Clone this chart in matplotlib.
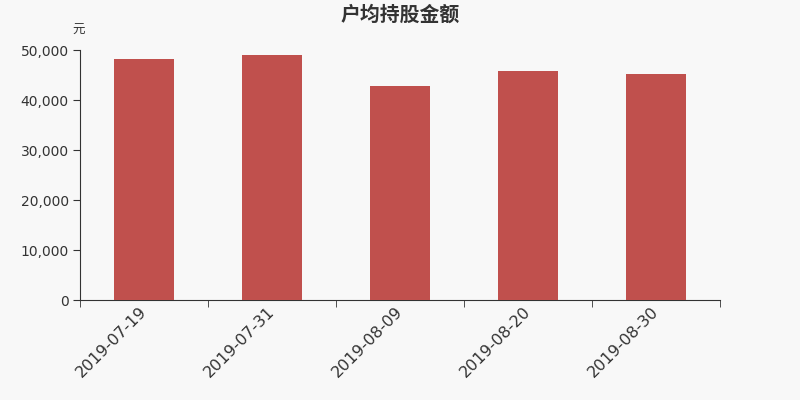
import matplotlib.pyplot as plt
from matplotlib.ticker import FuncFormatter, FixedLocator
from matplotlib.transforms import ScaledTranslation

plt.rcParams['font.family'] = ['DejaVu Sans', 'Noto Sans CJK SC']

# --- DATA FROM IMAGE ---
dates = ['2019-07-19', '2019-07-31', '2019-08-09', '2019-08-20', '2019-08-30']
amount = [48140, 49070, 42870, 45800, 45200]

bg = '#f8f8f8'
axis_color = '#333333'

fig = plt.figure(figsize=(8, 4), dpi=100, facecolor=bg)
ax = fig.add_axes([0.1, 0.25, 0.8, 0.625], facecolor=bg)

x = range(len(dates))
ax.bar(x, amount, width=0.47, color='#c0504d', zorder=3)

ax.set_xlim(-0.5, len(dates) - 0.5)
ax.set_ylim(0, 50000)
ax.set_yticks(range(0, 50001, 10000))
ax.yaxis.set_major_formatter(FuncFormatter(lambda v, p: f'{int(v):,}'))

ax.set_xticks(list(x))
ax.set_xticklabels(dates, rotation=45, ha='right', va='top', rotation_mode='anchor',
                   fontsize=11.5, color=axis_color)
ax.xaxis.set_minor_locator(FixedLocator([i - 0.5 for i in range(len(dates) + 1)]))
ax.tick_params(axis='x', which='major', length=0, pad=3)
ax.tick_params(axis='x', which='minor', length=5, color=axis_color)
ax.tick_params(axis='y', length=5, labelsize=10, colors=axis_color, pad=3)

# nudge rotated date labels a little to the left
shift = ScaledTranslation(-5 / 100, 0, fig.dpi_scale_trans)
for lbl in ax.get_xticklabels():
    lbl.set_transform(lbl.get_transform() + shift)

for s in ['top', 'right']:
    ax.spines[s].set_visible(False)
for s in ['left', 'bottom']:
    ax.spines[s].set_color(axis_color)

fig.text(0.5, 0.962, '户均持股金额', ha='center', va='center', fontsize=14.3,
         fontweight='bold', color=axis_color)
fig.text(0.098, 0.925, '元', ha='center', va='center', fontsize=9, color=axis_color)

plt.savefig('out.png', dpi=100, facecolor=bg)
